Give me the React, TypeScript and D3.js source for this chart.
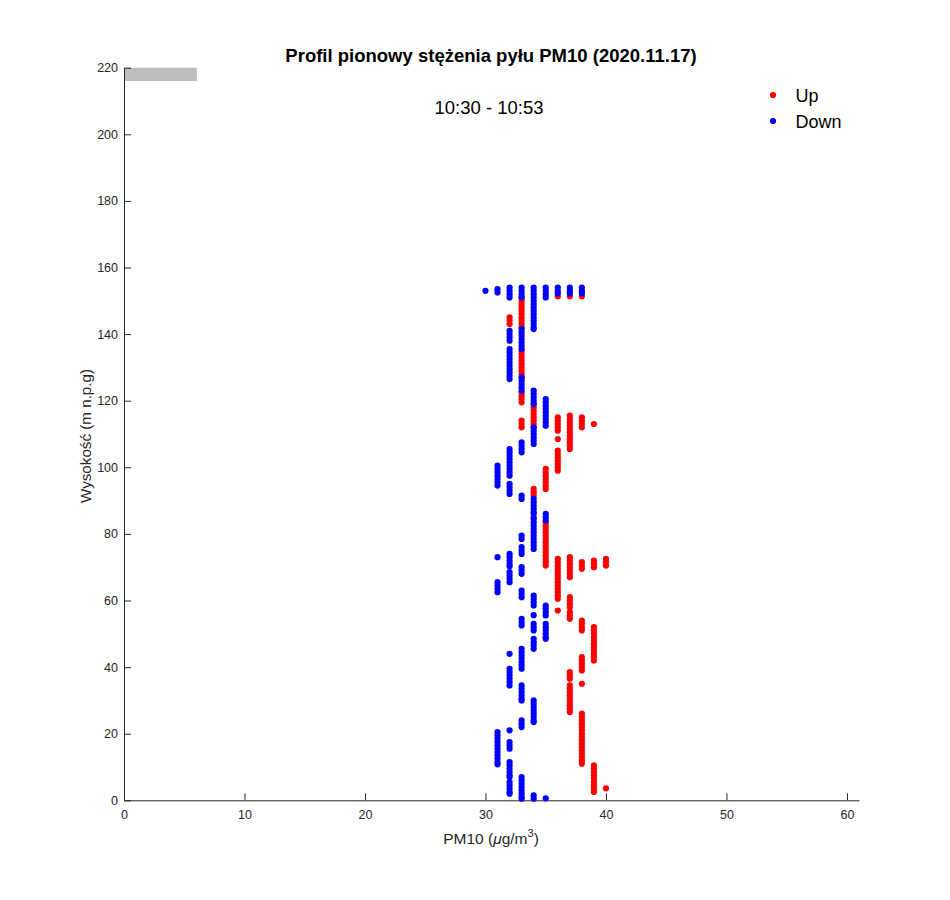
import { useEffect, useRef } from 'react';
import * as d3 from 'd3';

const upRuns: [number, number[]][] = [
  [32, [145, 144, 143]],
  [33, [151, 150, 149, 148, 147, 146, 145, 144, 143, 142, 135, 134, 133, 132, 131, 130, 129, 128, 127, 122.5, 121.5, 120.5, 119.5, 114, 113, 112]],
  [34, [119, 118, 117, 116, 115, 114, 113, 112, 93.5, 92.5, 91.5, 85]],
  [35, [99.5, 98.5, 97.5, 96.5, 95.5, 94.5, 93.5, 83.5, 82.5, 81.5, 80.5, 79.5, 78.5, 77.5, 76.5, 75.5, 74.5, 73.5, 72.5, 71.5, 70.5]],
  [36, [151.4, 115, 114, 113, 112, 111, 108.5, 105, 104, 103, 102, 101, 100, 99, 72.5, 71.5, 70.5, 69.5, 68.5, 67.5, 66.5, 65.5, 64.5, 63.5, 62.5, 61.5, 60.5, 57]],
  [37, [151.4, 115.5, 114.5, 113.5, 112.5, 111.5, 110.5, 109.5, 108.5, 107.5, 106.5, 105.5, 73, 72, 71, 70, 69, 68, 67, 61, 60, 59, 58, 56.5, 55.5, 54.5, 38.5, 37.5, 36.5, 34.5, 33.5, 32.5, 31.5, 30.5, 29.5, 28.5, 27.5, 26.5]],
  [38, [151.4, 115, 114, 113, 112, 71.5, 70.5, 69.5, 54, 53, 52, 51, 43, 42, 41, 40, 39, 35, 26, 25, 24, 23, 22, 21, 20, 19, 18, 17, 16, 15, 14, 13, 12, 11]],
  [39, [113, 72, 71, 70, 52, 51, 50, 49, 48, 47, 46, 45, 44, 43, 42, 10.5, 9.5, 8.5, 7.5, 6.5, 5.5, 4.5, 3.5, 2.5]],
  [40, [72.5, 71.5, 70.5, 3.6]],
];

const downRuns: [number, number[]][] = [
  [30, [153]],
  [31, [153.5, 152.5, 100.5, 99.5, 98.5, 97.5, 96.5, 95.5, 94.5, 73, 65.5, 64.5, 63.5, 62.5, 20.5, 19.5, 18.5, 17.5, 16.5, 15.5, 14.5, 13.5, 12.5, 11.5, 10.8]],
  [32, [154, 153, 152, 151, 141, 140, 139, 138, 135.5, 134.5, 133.5, 132.5, 131.5, 130.5, 129.5, 128.5, 127.5, 126.5, 105.5, 104.5, 103.5, 102.5, 101.5, 100.5, 99.5, 98.5, 97.5, 95, 94, 93, 92, 74, 73, 72, 71, 70.3, 68.5, 67.5, 66.5, 65.5, 44, 39.5, 38.5, 37.5, 36.5, 35.5, 34.5, 21, 17.5, 16.5, 15.5, 11.5, 10.5, 9.5, 8.5, 7.5, 7, 5.5, 4.5, 3.5, 2.5, 2]],
  [33, [154, 153, 152, 151, 141.5, 140.5, 139.5, 138.5, 137.5, 136.5, 135.5, 127, 126, 125, 124, 123, 107.5, 106.5, 105.5, 104.5, 91.5, 90.5, 79.5, 78.5, 76, 75, 74, 70, 69, 68, 63, 62, 61, 54.5, 53.5, 52.5, 45.5, 44.5, 43.5, 42.5, 41.5, 40.5, 39.5, 34.5, 33.5, 32.5, 31.5, 30.5, 30, 24, 23, 22, 7, 6, 5, 4, 3, 2, 1, 0.5]],
  [34, [154, 153, 152, 151, 150, 149, 148, 147, 146, 145, 144, 143, 142, 141.5, 123, 122, 121, 120, 119, 112, 111, 110, 109, 108, 107, 90.5, 89.5, 88.5, 87.5, 86.5, 86, 84.5, 83.5, 82.5, 81.5, 80.5, 79.5, 78.5, 77.5, 76.5, 75.5, 61.5, 60.5, 59.5, 58.5, 55.6, 53, 52, 51, 48.5, 47.5, 46.5, 45.5, 30, 29, 28, 27, 26, 25, 24, 23.5, 1.5, 0.5]],
  [35, [154, 153, 152, 151, 120.5, 119.5, 118.5, 117.5, 116.5, 115.5, 114.5, 113.5, 112.5, 86, 85, 84, 58.5, 57.5, 56.5, 55.5, 53, 52, 51, 50, 49, 48.5, 0.6]],
  [36, [154, 153, 152.2]],
  [37, [154, 153, 152.2]],
  [38, [154, 153, 152.2]],
];

const xTicks = [0, 10, 20, 30, 40, 50, 60];
const yTicks = [0, 20, 40, 60, 80, 100, 120, 140, 160, 180, 200, 220];

const FONT = '"Liberation Sans", Arial, Helvetica, sans-serif';
const AXIS = '#262626';

function flatten(runs: [number, number[]][]) {
  return runs.flatMap(([pm, hs]) => hs.map((h) => ({ pm, h })));
}

export default function App() {
  const ref = useRef<SVGSVGElement | null>(null);

  useEffect(() => {
    if (!ref.current) return;
    const svg = d3.select(ref.current);
    svg.selectAll('*').remove();

    const x = d3.scaleLinear().domain([0, 61]).range([124, 859]);
    const y = d3.scaleLinear().domain([0, 220]).range([800.3, 67.7]);

    // grey strip in the top-left corner
    svg.append('rect')
      .attr('x', x(0))
      .attr('y', y(220))
      .attr('width', x(6.05) - x(0))
      .attr('height', y(216) - y(220))
      .attr('fill', '#bebebe');

    // x axis (ticks pointing inward)
    const gx = svg.append('g')
      .attr('transform', `translate(0,${y(0)})`)
      .call(d3.axisBottom(x).tickValues(xTicks).tickSizeInner(-7).tickSizeOuter(0).tickPadding(10));
    gx.selectAll('path, line').attr('stroke', AXIS);
    gx.selectAll('text').attr('fill', AXIS).style('font-size', '12.5px').style('font-family', FONT);

    const gy = svg.append('g')
      .attr('transform', `translate(${x(0)},0)`)
      .call(d3.axisLeft(y).tickValues(yTicks).tickSizeInner(-7).tickSizeOuter(0).tickPadding(6));
    gy.selectAll('path, line').attr('stroke', AXIS);
    gy.selectAll('text').attr('fill', AXIS).style('font-size', '12.5px').style('font-family', FONT);

    // points: Up first, Down drawn on top
    const series = [
      { pts: flatten(upRuns), color: '#ff0000' },
      { pts: flatten(downRuns), color: '#0000ff' },
    ];
    series.forEach((s) => {
      svg.append('g')
        .selectAll('circle')
        .data(s.pts)
        .enter()
        .append('circle')
        .attr('cx', (d) => x(d.pm))
        .attr('cy', (d) => y(d.h))
        .attr('r', 3.1)
        .attr('fill', s.color);
    });

    // titles
    svg.append('text')
      .attr('x', 491)
      .attr('y', 62)
      .attr('text-anchor', 'middle')
      .style('font-family', FONT)
      .style('font-size', '18.5px')
      .style('font-weight', 'bold')
      .attr('fill', '#000')
      .text('Profil pionowy stężenia pyłu PM10 (2020.11.17)');

    svg.append('text')
      .attr('x', 489)
      .attr('y', 113.5)
      .attr('text-anchor', 'middle')
      .style('font-family', FONT)
      .style('font-size', '18.5px')
      .attr('fill', '#000')
      .text('10:30 - 10:53');

    // axis labels
    const xl = svg.append('text')
      .attr('x', 491)
      .attr('y', 844)
      .attr('text-anchor', 'middle')
      .style('font-family', FONT)
      .style('font-size', '15.5px')
      .attr('fill', AXIS);
    xl.append('tspan').text('PM10 (');
    xl.append('tspan').style('font-style', 'italic').text('μ');
    xl.append('tspan').text('g/m');
    xl.append('tspan').attr('dy', -7).style('font-size', '11px').text('3');
    xl.append('tspan').attr('dy', 7).text(')');

    svg.append('text')
      .attr('transform', 'translate(91,436) rotate(-90)')
      .attr('text-anchor', 'middle')
      .style('font-family', FONT)
      .style('font-size', '15.2px')
      .attr('fill', AXIS)
      .text('Wysokość (m n.p.g)');

    // legend
    const legend = [
      { label: 'Up', color: '#ff0000' },
      { label: 'Down', color: '#0000ff' },
    ];
    legend.forEach((l, i) => {
      const cy = 95 + i * 26;
      svg.append('circle').attr('cx', 773).attr('cy', cy).attr('r', 3.1).attr('fill', l.color);
      svg.append('text')
        .attr('x', 795.5)
        .attr('y', cy + 6.5)
        .style('font-family', FONT)
        .style('font-size', '18px')
        .attr('fill', '#000')
        .text(l.label);
    });
  }, []);

  return (
    <svg
      ref={ref}
      width={950}
      height={900}
      style={{ position: 'absolute', left: 0, top: 0, background: '#fff' }}
    />
  );
}
